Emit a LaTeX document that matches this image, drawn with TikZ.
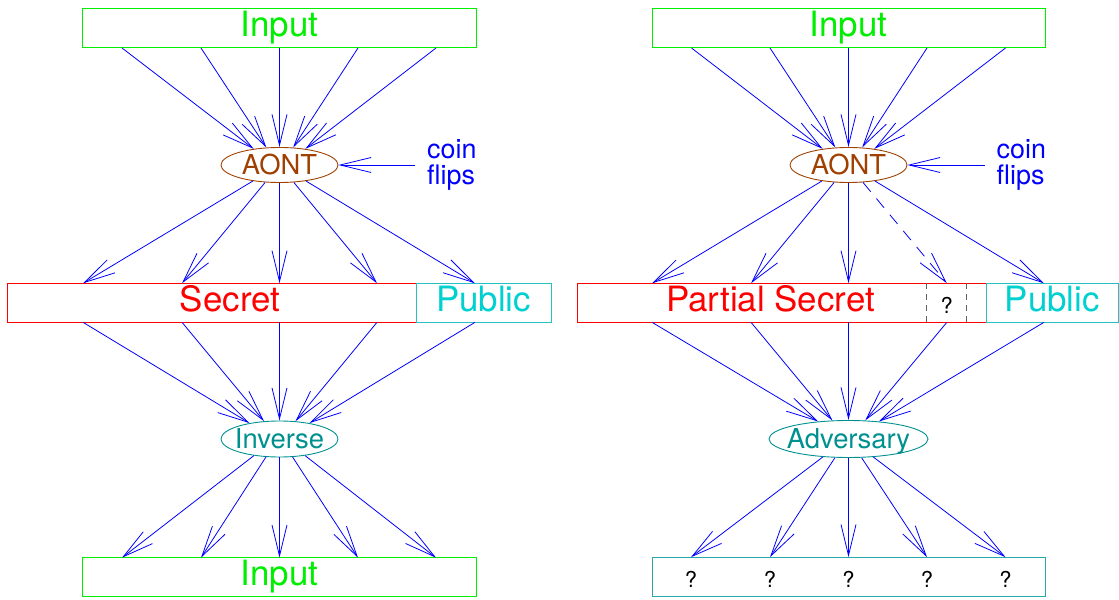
\documentclass[tikz,border=0pt]{standalone}
\usepackage{fontspec}
\setmainfont{TeX Gyre Heros}
\usetikzlibrary{arrows.meta,shapes.geometric}
\definecolor{inputgreen}{RGB}{0,238,0}
\definecolor{secretred}{RGB}{255,0,0}
\definecolor{publiccyan}{RGB}{0,208,208}
\definecolor{publicedge}{RGB}{40,192,192}
\definecolor{aontbrown}{RGB}{160,64,0}
\definecolor{invteal}{RGB}{0,144,144}
\definecolor{qedge}{RGB}{40,168,168}
\definecolor{flowblue}{RGB}{0,0,255}
\definecolor{cellgray}{RGB}{96,96,96}
\begin{document}
\begin{tikzpicture}[x=1bp,y=-1bp,
  big/.style={font=\fontsize{35}{36}\selectfont, text height=25bp, text depth=7bp},
  inbox/.style={big, text depth=9.4bp},
  box/.style={draw, rectangle, inner sep=0pt, line width=1bp, minimum height=39bp},
  oval/.style={draw, ellipse, inner xsep=-14bp, inner ysep=0pt, line width=0.9bp,
    font=\fontsize{27.5}{29}\selectfont, text height=19.5bp, text depth=0bp},
  coin/.style={anchor=west, inner xsep=12bp, inner ysep=0pt, align=left, text=flowblue,
    font=\fontsize{27}{26.6}\selectfont},
  qmark/.style={inner sep=0pt, font=\fontsize{22}{24}\selectfont, text height=21bp, text depth=0bp},
  flow/.style={draw=flowblue, line width=0.8bp,
    -{Straight Barb[length=31bp,width=15bp,line width=0.8bp]}},
  maybe/.style={flow, dash pattern=on 12bp off 9bp},
  celldash/.style={draw=cellgray, line width=1bp, dash pattern=on 6bp off 5bp}]
\useasboundingbox (0,0) rectangle (1119,600);

% ---------- left panel: AONT and its inverse ----------
\node[box, inbox, draw=inputgreen, text=inputgreen, minimum width=393bp] (inL) at (279.5,28.35) {Input};
\node[oval, draw=aontbrown, text=aontbrown, minimum width=117bp, minimum height=35bp] (aontL) at (279.5,165) {AONT};
\node[coin] (coinL) at (415,165) {coin\\flips};
\node[box, big, draw=secretred, text=secretred, minimum width=408bp] (secL) at (212,302.8) {\hspace*{36bp}Secret};
\node[box, big, draw=publicedge, text=publiccyan, minimum width=135bp] (pubL) at (483.5,302.8) {Public};
\node[oval, draw=invteal, text=invteal, minimum width=117bp, minimum height=36bp] (invL) at (279.5,439) {Inverse};
\node[box, inbox, draw=inputgreen, text=inputgreen, minimum width=393bp] (outL) at (279.5,577.2) {Input};

\foreach \i/\x in {1/122,2/201,3/279.5,4/358,5/436} {
  \coordinate (inL\i) at (\x,48);
  \coordinate (outL\i) at (\x,557.7);
}
\foreach \i/\x in {1/83,2/182,3/279.5,4/377,5/475} {
  \coordinate (rtL\i) at (\x,283.3);
  \coordinate (rbL\i) at (\x,322.3);
}

\foreach \i/\a in {1/148,2/127.5,3/90,4/52.5,5/32}
  \draw[flow] (inL\i) -- (aontL.\a);
\draw[flow] (coinL.west) -- (aontL.east);
\foreach \i in {1,...,5}
  \draw[flow] (aontL) -- (rtL\i);
\foreach \i/\a in {1/152,2/131.5,3/90,4/48.5,5/28}
  \draw[flow] (rbL\i) -- (invL.\a);
\foreach \i/\a in {1/213,2/233.5,3/270,4/306.5,5/327}
  \draw[flow] (invL.\a) -- (outL\i);

% ---------- right panel: what the adversary sees ----------
\node[box, inbox, draw=inputgreen, text=inputgreen, minimum width=393bp] (inR) at (848.5,28.35) {Input};
\node[oval, draw=aontbrown, text=aontbrown, minimum width=117bp, minimum height=35bp] (aontR) at (848.5,165) {AONT};
\node[coin] (coinR) at (984.5,165) {coin\\flips};
\node[box, big, draw=secretred, text=secretred, minimum width=409bp] (secR) at (781.5,302.8) {Partial Secret\hspace*{22bp}};
\node[qmark, minimum width=40bp, minimum height=39bp] (cell) at (946.7,302.8) {?};
\draw[celldash] (cell.north west) -- (cell.south west);
\draw[celldash] (cell.north east) -- (cell.south east);
\node[box, big, draw=publicedge, text=publiccyan, minimum width=132.8bp] (pubR) at (1052.4,302.8) {Public};
\node[oval, draw=invteal, text=invteal, minimum width=159bp, minimum height=37bp] (adv) at (848.5,439) {Adversary};
\node[box, draw=qedge, minimum width=393bp] (guess) at (848.5,577.2) {};
\foreach \i/\x in {1/691,2/770,3/848.5,4/927,5/1005.5}
  \node[qmark] (q\i) at (\x,577.2) {?};

\foreach \i/\x in {1/691.5,2/770,3/848.5,4/927,5/1005.5}
  \coordinate (inR\i) at (\x,48);
\foreach \i/\x in {1/652,2/751,3/848.5,5/1044} {
  \coordinate (rtR\i) at (\x,283.3);
  \coordinate (rbR\i) at (\x,322.3);
}
\coordinate (rtR4) at (cell.north);
\coordinate (rbR4) at (cell.south);

\foreach \i/\a in {1/148,2/127.5,3/90,4/52.5,5/32}
  \draw[flow] (inR\i) -- (aontR.\a);
\draw[flow] (coinR.west) -- (aontR.east);
\foreach \i in {1,2,3,5}
  \draw[flow] (aontR) -- (rtR\i);
\draw[maybe] (aontR) -- (rtR4);
\foreach \i/\a in {1/150,2/131.5,3/90,4/48.5,5/30}
  \draw[flow] (rbR\i) -- (adv.\a);
\foreach \i/\a in {1/215.6,2/234.5,3/270,4/305.5,5/324.4}
  \draw[flow] (adv.\a) -- (q\i |- guess.north);
\end{tikzpicture}
\end{document}
